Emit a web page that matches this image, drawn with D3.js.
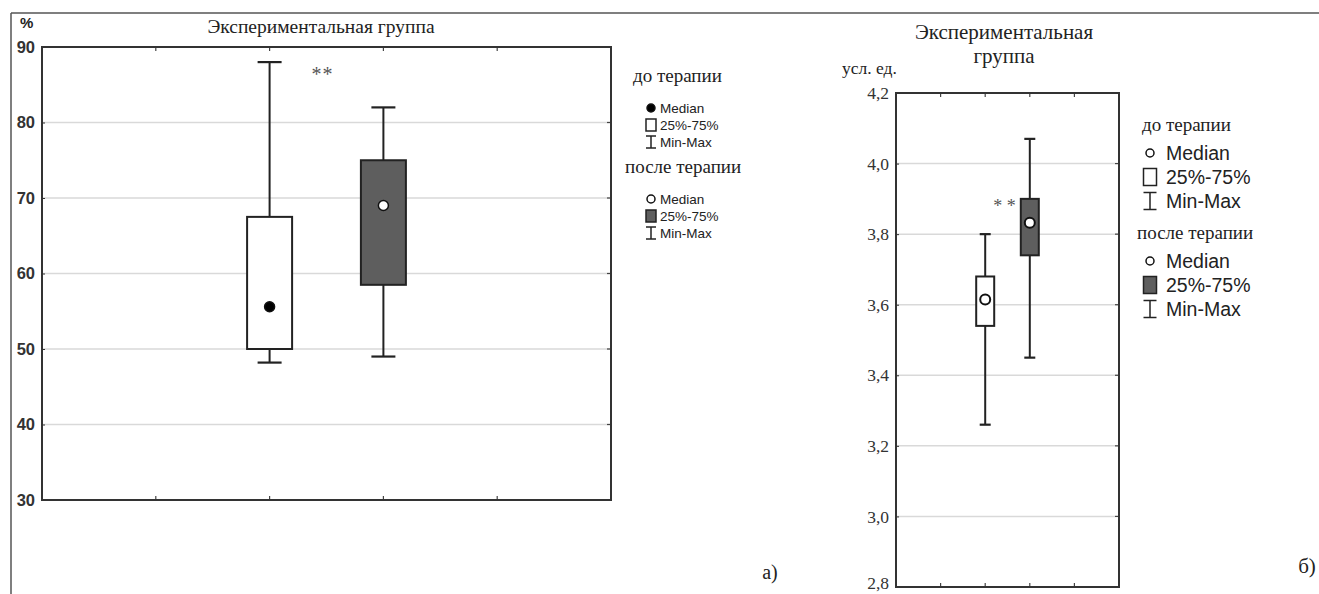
<!DOCTYPE html>
<html>
<head>
<meta charset="utf-8">
<script src="https://cdn.jsdelivr.net/npm/d3@7"></script>
<style>
  body { margin: 0; background: #fff; }
  svg { display: block; }
</style>
</head>
<body>
<div id="chart"></div>
<script>
// data
const groups = ["до терапии", "после терапии"];

// panel a) - percent
const aMin = [48.2, 49];
const aQ1 = [50, 58.5];
const aMedian = [55.6, 69];
const aQ3 = [67.5, 75];
const aMax = [88, 82];
const aTicks = [30, 40, 50, 60, 70, 80, 90];

// panel б) - conventional units
const bMin = [3.26, 3.45];
const bQ1 = [3.54, 3.74];
const bMedian = [3.615, 3.832];
const bQ3 = [3.68, 3.90];
const bMax = [3.80, 4.07];
const bTicks = [2.8, 3.0, 3.2, 3.4, 3.6, 3.8, 4.0, 4.2];

const boxFill = ["#ffffff", "#5e5e5e"];

const W = 1319, H = 594;
const svg = d3.select("#chart").append("svg")
    .attr("width", W).attr("height", H);

// outer frame lines of the scanned figure
svg.append("line").attr("x1", 11).attr("x2", W).attr("y1", 13).attr("y2", 13)
    .attr("stroke", "#555").attr("stroke-width", 1.5);
svg.append("line").attr("x1", 11).attr("x2", 11).attr("y1", 13).attr("y2", H)
    .attr("stroke", "#555").attr("stroke-width", 1.5);

function panel(cfg) {
    const x = d3.scaleLinear().domain([0, 5]).range([cfg.left, cfg.right]);
    const y = d3.scaleLinear().domain(d3.extent(cfg.ticks)).range([cfg.bottom, cfg.top]);
    const g = svg.append("g");

    // plot background
    g.append("rect")
        .attr("x", cfg.left).attr("y", cfg.top)
        .attr("width", cfg.right - cfg.left).attr("height", cfg.bottom - cfg.top)
        .attr("fill", "#fff");

    // gridlines
    g.selectAll(".grid")
        .data(cfg.ticks.slice(1, -1))
        .enter().append("line")
        .attr("x1", cfg.left).attr("x2", cfg.right)
        .attr("y1", d => y(d)).attr("y2", d => y(d))
        .attr("stroke", "#d9d9d9").attr("stroke-width", 1.5);

    // left axis
    const yAxis = d3.axisLeft(y).tickValues(cfg.ticks).tickSize(-3).tickPadding(7)
        .tickFormat(cfg.fmt);
    const ya = g.append("g").attr("transform", `translate(${cfg.left},0)`).call(yAxis);
    ya.select(".domain").remove();
    ya.selectAll(".tick line").attr("stroke", "#333");
    ya.selectAll("text")
        .attr("font-family", cfg.tickFont)
        .attr("font-size", cfg.tickSize)
        .attr("font-weight", cfg.tickWeight)
        .attr("fill", "#333");
    // keep the lowest label inside the picture
    ya.selectAll("text").filter(d => d === cfg.ticks[0] && cfg.liftLast)
        .attr("dy", "0.1em");

    // right side small ticks
    g.selectAll(".rtick")
        .data(cfg.ticks.slice(1, -1))
        .enter().append("line")
        .attr("x1", cfg.right - 4).attr("x2", cfg.right)
        .attr("y1", d => y(d)).attr("y2", d => y(d))
        .attr("stroke", "#444").attr("stroke-width", 1.2);

    // top & bottom ticks
    [1, 2, 3, 4].forEach(i => {
        g.append("line").attr("x1", x(i)).attr("x2", x(i))
            .attr("y1", cfg.top).attr("y2", cfg.top + 4)
            .attr("stroke", "#444").attr("stroke-width", 1.2);
        g.append("line").attr("x1", x(i)).attr("x2", x(i))
            .attr("y1", cfg.bottom).attr("y2", cfg.bottom - 4)
            .attr("stroke", "#444").attr("stroke-width", 1.2);
    });

    // frame
    g.append("rect")
        .attr("x", cfg.left).attr("y", cfg.top)
        .attr("width", cfg.right - cfg.left).attr("height", cfg.bottom - cfg.top)
        .attr("fill", "none").attr("stroke", "#333").attr("stroke-width", 2);

    // boxes
    groups.forEach((grp, i) => {
        const cx = x(i + 2);
        g.append("line").attr("x1", cx).attr("x2", cx)
            .attr("y1", y(cfg.max[i])).attr("y2", y(cfg.min[i]))
            .attr("stroke", "#222").attr("stroke-width", 2);
        [cfg.max[i], cfg.min[i]].forEach(v => {
            g.append("line")
                .attr("x1", cx - cfg.cap / 2).attr("x2", cx + cfg.cap / 2)
                .attr("y1", y(v)).attr("y2", y(v))
                .attr("stroke", "#222").attr("stroke-width", 2.2);
        });
        g.append("rect")
            .attr("x", cx - cfg.boxW / 2).attr("y", y(cfg.q3[i]))
            .attr("width", cfg.boxW).attr("height", y(cfg.q1[i]) - y(cfg.q3[i]))
            .attr("fill", boxFill[i]).attr("stroke", "#222").attr("stroke-width", 2);
        g.append("circle")
            .attr("cx", cx).attr("cy", y(cfg.median[i]))
            .attr("r", cfg.medR)
            .attr("fill", cfg.medFill[i]).attr("stroke", "#111").attr("stroke-width", cfg.medStroke);
    });

    // significance mark
    g.append("text")
        .attr("x", cfg.starX(x)).attr("y", y(cfg.starY))
        .attr("text-anchor", "middle")
        .attr("font-family", "Liberation Serif, serif")
        .attr("font-size", cfg.starSize)
        .attr("letter-spacing", cfg.starSpacing)
        .attr("fill", "#555")
        .text(cfg.starText);

    return {x, y};
}

panel({
    left: 42, right: 611, top: 47, bottom: 500,
    ticks: aTicks, fmt: d3.format("d"),
    tickFont: "Liberation Sans, Arial, sans-serif", tickSize: 16.5, tickWeight: 600,
    min: aMin, q1: aQ1, median: aMedian, q3: aQ3, max: aMax,
    boxW: 45, cap: 24, medR: 5, medStroke: 1.5,
    medFill: ["#000", "#fff"],
    starX: x => (x(2) + x(3)) / 2 - 4, starY: 85.5,
    starText: "**", starSize: 20, starSpacing: 1, liftLast: false
});

panel({
    left: 896, right: 1119, top: 93, bottom: 587,
    ticks: bTicks, fmt: d => d3.format(".1f")(d).replace(".", ","),
    tickFont: "Liberation Serif, Times New Roman, serif", tickSize: 17.5, tickWeight: 400,
    min: bMin, q1: bQ1, median: bMedian, q3: bQ3, max: bMax,
    boxW: 18, cap: 11, medR: 5, medStroke: 2,
    medFill: ["#fff", "#fff"],
    starX: x => (x(2) + x(3)) / 2 - 3, starY: 3.862,
    starText: "* *", starSize: 18, starSpacing: 0, liftLast: true
});

// titles and labels
const serif = "Liberation Serif, Times New Roman, serif";
const sans = "Liberation Sans, Arial, sans-serif";

function txt(x, y, s, font, size, anchor, extra) {
    const t = svg.append("text")
        .attr("x", x).attr("y", y)
        .attr("font-family", font).attr("font-size", size)
        .attr("text-anchor", anchor || "start")
        .attr("fill", "#222")
        .text(s);
    if (extra) extra(t);
    return t;
}

txt(321, 33, "Экспериментальная группа", serif, 19.5, "middle");
txt(20, 28, "%", sans, 15, "start", t => t.attr("font-weight", 600));
txt(770, 579, "а)", serif, 20, "middle");

txt(1004, 39, "Экспериментальная", serif, 21, "middle");
txt(1004, 63, "группа", serif, 21, "middle");
txt(842, 74, "усл. ед.", serif, 17.5, "start");
txt(1307, 573, "б)", serif, 21, "middle");

// legends
function legend(cfg) {
    const g = svg.append("g");
    groups.forEach((grp, i) => {
        const base = cfg.y0 + i * cfg.blockH;
        g.append("text")
            .attr("x", cfg.headX[i]).attr("y", base)
            .attr("font-family", serif).attr("font-size", cfg.headSize)
            .attr("fill", "#222").text(grp);
        const rows = ["Median", "25%-75%", "Min-Max"];
        rows.forEach((r, j) => {
            const ry = base + cfg.firstGap + j * cfg.rowH;
            g.append("text")
                .attr("x", cfg.textX).attr("y", ry)
                .attr("dy", "0.35em")
                .attr("font-family", sans).attr("font-size", cfg.itemSize)
                .attr("fill", "#222").text(r);
            const sx = cfg.symX;
            if (j === 0) {
                g.append("circle").attr("cx", sx).attr("cy", ry).attr("r", cfg.dotR)
                    .attr("fill", cfg.dotFill[i]).attr("stroke", "#111").attr("stroke-width", 1.5);
            } else if (j === 1) {
                g.append("rect")
                    .attr("x", sx - cfg.sq / 2).attr("y", ry - cfg.sqH / 2)
                    .attr("width", cfg.sq).attr("height", cfg.sqH)
                    .attr("fill", boxFill[i]).attr("stroke", "#222").attr("stroke-width", 1.5);
            } else {
                const hh = cfg.sqH / 2;
                g.append("line").attr("x1", sx).attr("x2", sx).attr("y1", ry - hh).attr("y2", ry + hh)
                    .attr("stroke", "#222").attr("stroke-width", 1.5);
                g.append("line").attr("x1", sx - cfg.sq / 2).attr("x2", sx + cfg.sq / 2)
                    .attr("y1", ry - hh).attr("y2", ry - hh).attr("stroke", "#222").attr("stroke-width", 1.5);
                g.append("line").attr("x1", sx - cfg.sq / 2).attr("x2", sx + cfg.sq / 2)
                    .attr("y1", ry + hh).attr("y2", ry + hh).attr("stroke", "#222").attr("stroke-width", 1.5);
            }
        });
    });
}

legend({
    y0: 82, blockH: 91, headX: [633, 625], headSize: 19,
    firstGap: 26, rowH: 17, textX: 660, symX: 651,
    itemSize: 13.5, dotR: 4, dotFill: ["#000", "#fff"],
    sq: 10, sqH: 12
});

legend({
    y0: 131, blockH: 108, headX: [1142, 1137], headSize: 19,
    firstGap: 22, rowH: 24, textX: 1166, symX: 1150,
    itemSize: 19.5, dotR: 4, dotFill: ["#fff", "#fff"],
    sq: 13, sqH: 17
});
</script>
</body>
</html>
